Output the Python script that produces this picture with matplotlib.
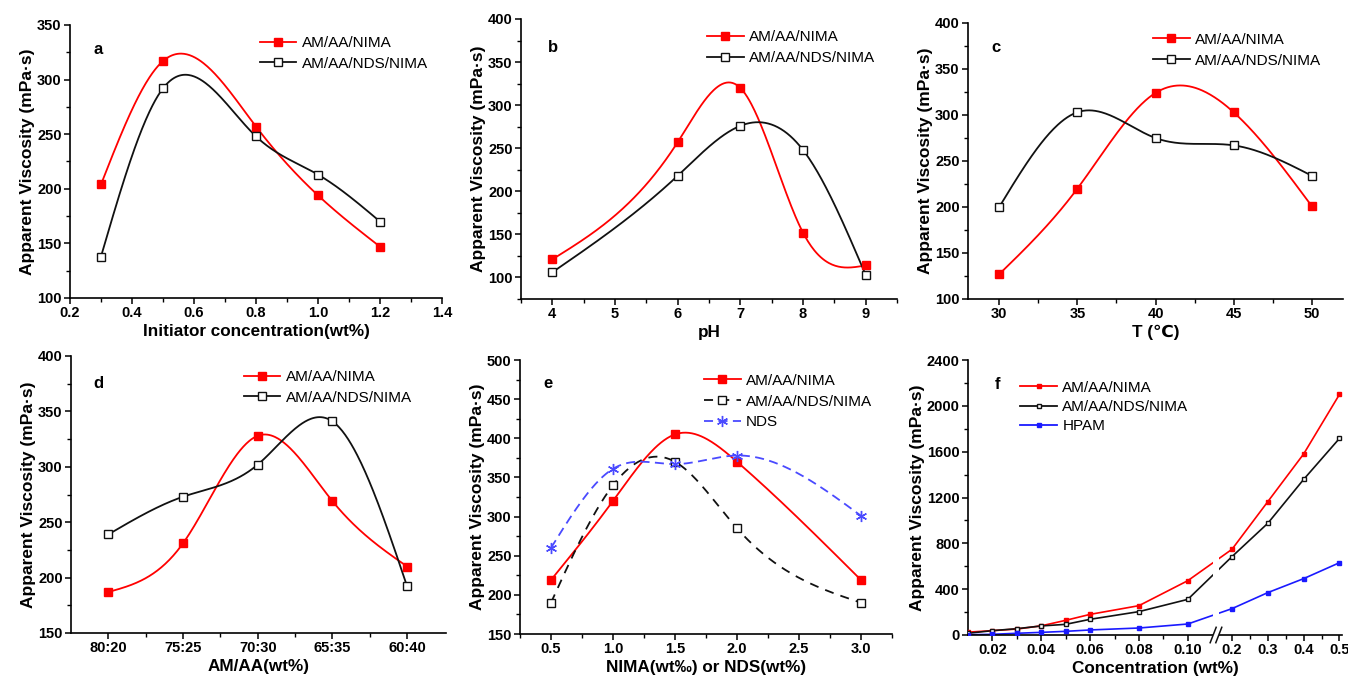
import matplotlib
matplotlib.use("Agg")
import matplotlib.pyplot as plt
import numpy as np
from matplotlib.patches import Rectangle
from matplotlib.ticker import FixedFormatter, FixedLocator, FormatStrFormatter, MultipleLocator

plt.rcParams["font.family"] = ["Liberation Sans", "DejaVu Sans"]

# panel a: initiator concentration
A_X = [0.3, 0.5, 0.8, 1.0, 1.2]
A_NIMA = [204, 317, 257, 194, 147]
A_NDS = [138, 292, 248, 213, 170]

# panel b: pH
B_X = [4, 6, 7, 8, 9]
B_NIMA = [121, 257, 320, 152, 114]
B_NDS = [106, 218, 276, 248, 103]

# panel c: temperature
C_X = [30, 35, 40, 45, 50]
C_NIMA = [127, 220, 324, 303, 201]
C_NDS = [200, 303, 275, 267, 234]

# panel d: AM/AA ratio
D_LABELS = ["80:20", "75:25", "70:30", "65:35", "60:40"]
D_NIMA = [187, 231, 328, 269, 210]
D_NDS = [239, 273, 302, 341, 192]

# panel e: NIMA / NDS content
E_X = [0.5, 1.0, 1.5, 2.0, 3.0]
E_NIMA = [219, 320, 405, 370, 219]
E_NDS_NIMA = [190, 340, 370, 285, 190]
E_NDS = [260, 361, 367, 378, 301]

# panel f: concentration
F_X = [0.01, 0.02, 0.03, 0.04, 0.05, 0.06, 0.08, 0.10, 0.2, 0.3, 0.4, 0.5]
F_NIMA = [25, 38, 52, 80, 128, 180, 256, 474, 748, 1164, 1580, 2100]
F_NDS = [15, 38, 55, 79, 93, 137, 204, 311, 684, 975, 1358, 1716]
F_HPAM = [2, 6, 15, 23, 32, 44, 61, 96, 230, 370, 492, 631]

YLABEL = "Apparent Viscosity (mPa\u00b7s)"
W, H = 1348, 677
RED = "#ff0000"
BLACK = "#111111"


def smooth(x, y, n=300):
    """Natural cubic spline through the points (Origin-style spline connect)."""
    x = np.asarray(x, float)
    y = np.asarray(y, float)
    h = np.diff(x)
    k = len(x)
    m = np.zeros(k)
    if k > 2:
        a = np.zeros((k - 2, k - 2))
        r = np.zeros(k - 2)
        for i in range(1, k - 1):
            a[i - 1, i - 1] = 2 * (h[i - 1] + h[i])
            if i > 1:
                a[i - 1, i - 2] = h[i - 1]
            if i < k - 2:
                a[i - 1, i] = h[i]
            r[i - 1] = 6 * ((y[i + 1] - y[i]) / h[i] - (y[i] - y[i - 1]) / h[i - 1])
        m[1:-1] = np.linalg.solve(a, r)
    xs = np.linspace(x[0], x[-1], n)
    idx = np.clip(np.searchsorted(x, xs) - 1, 0, k - 2)
    x0, x1 = x[idx], x[idx + 1]
    hh = x1 - x0
    t0, t1 = x1 - xs, xs - x0
    ys = (m[idx] * t0 ** 3 + m[idx + 1] * t1 ** 3) / (6 * hh) \
        + (y[idx] / hh - m[idx] * hh / 6) * t0 \
        + (y[idx + 1] / hh - m[idx + 1] * hh / 6) * t1
    return xs, ys


def make_axes(fig, left, top, right, bottom):
    ax = fig.add_axes([left / W, 1 - bottom / H, (right - left) / W, (bottom - top) / H])
    for side in ("top", "right"):
        ax.spines[side].set_visible(False)
    for side in ("left", "bottom"):
        ax.spines[side].set_linewidth(1.2)
    ax.tick_params(which="major", direction="out", length=4.5, width=1.1, labelsize=10.5, pad=1.5)
    ax.tick_params(which="minor", direction="out", length=3, width=1.0)
    ax.set_ylabel(YLABEL, fontsize=12.5, fontweight="bold", labelpad=1.5)
    return ax


def xlabel(ax, s):
    ax.set_xlabel(s, fontsize=12.3, fontweight="bold", labelpad=2.5)


def bold_ticks(ax):
    for lab in ax.get_xticklabels() + ax.get_yticklabels():
        lab.set_fontweight("bold")


def series(ax, x, y, color, filled, ms=5.5, ls="-", marker="s", spline=True, lw=1.3):
    if spline:
        xs, ys = smooth(x, y)
    else:
        xs, ys = x, y
    ax.plot(xs, ys, color=color, lw=lw, ls=ls, zorder=2)
    face = color if filled else "white"
    ax.plot(x, y, ls="none", marker=marker, ms=ms, mfc=face, mec=color, mew=1.0, zorder=3)


def legend(ax, handles, x, y, spacing=0.45, hl=2.4):
    ax.legend(handles=handles, loc="upper left", bbox_to_anchor=(x, y), frameon=False,
              borderpad=0, borderaxespad=0, handlelength=hl, handletextpad=0.35,
              labelspacing=spacing, numpoints=1, fontsize=11)


def handle(color, filled, ls="-", ms=5.5, marker="s", label=""):
    return plt.Line2D([], [], color=color, lw=1.3, ls=ls, marker=marker, ms=ms,
                      mfc=color if filled else "white", mec=color, mew=1.0, label=label)


def letter(ax, s, x, y):
    ax.text(x, y, s, transform=ax.transAxes, fontsize=12, fontweight="bold", ha="center", va="center")


fig = plt.figure(figsize=(W / 100, H / 100), dpi=100)

# ---- a
ax = make_axes(fig, 70, 25, 442, 298)
series(ax, A_X, A_NIMA, RED, True)
series(ax, A_X, A_NDS, BLACK, False)
ax.set_xlim(0.2, 1.4)
ax.set_ylim(100, 350)
ax.xaxis.set_major_locator(MultipleLocator(0.2))
ax.xaxis.set_minor_locator(MultipleLocator(0.1))
ax.yaxis.set_major_locator(MultipleLocator(50))
ax.yaxis.set_minor_locator(MultipleLocator(25))
xlabel(ax, "Initiator concentration(wt%)")
legend(ax, [handle(RED, True, label="AM/AA/NIMA"), handle(BLACK, False, label="AM/AA/NDS/NIMA")], 0.51, 0.96)
letter(ax, "a", 0.075, 0.91)
bold_ticks(ax)

# ---- b
ax = make_axes(fig, 521, 19, 897, 299)
series(ax, B_X, B_NIMA, RED, True)
series(ax, B_X, B_NDS, BLACK, False)
ax.set_xlim(3.5, 9.5)
ax.set_ylim(75, 400)
ax.xaxis.set_major_locator(MultipleLocator(1))
ax.xaxis.set_minor_locator(MultipleLocator(0.5))
ax.yaxis.set_major_locator(MultipleLocator(50))
ax.yaxis.set_minor_locator(MultipleLocator(25))
xlabel(ax, "pH")
legend(ax, [handle(RED, True, label="AM/AA/NIMA"), handle(BLACK, False, label="AM/AA/NDS/NIMA")], 0.495, 0.96)
letter(ax, "b", 0.085, 0.90)
bold_ticks(ax)

# ---- c
ax = make_axes(fig, 968, 23, 1343, 299)
series(ax, C_X, C_NIMA, RED, True)
series(ax, C_X, C_NDS, BLACK, False)
ax.set_xlim(28, 52)
ax.set_ylim(100, 400)
ax.xaxis.set_major_locator(MultipleLocator(5))
ax.xaxis.set_minor_locator(MultipleLocator(2.5))
ax.yaxis.set_major_locator(MultipleLocator(50))
ax.yaxis.set_minor_locator(MultipleLocator(25))
xlabel(ax, "T (\u2103)")
legend(ax, [handle(RED, True, label="AM/AA/NIMA"), handle(BLACK, False, label="AM/AA/NDS/NIMA")], 0.493, 0.965)
letter(ax, "c", 0.075, 0.91)
bold_ticks(ax)

# ---- d
ax = make_axes(fig, 71, 356, 446, 633)
d_pos = np.arange(len(D_LABELS))
series(ax, d_pos, D_NIMA, RED, True)
series(ax, d_pos, D_NDS, BLACK, False)
ax.set_xlim(-0.5, 4.52)
ax.set_ylim(150, 400)
ax.set_xticks(d_pos)
ax.set_xticklabels(D_LABELS)
ax.xaxis.set_minor_locator(FixedLocator(d_pos[:-1] + 0.5))
ax.yaxis.set_major_locator(MultipleLocator(50))
ax.yaxis.set_minor_locator(MultipleLocator(25))
xlabel(ax, "AM/AA(wt%)")
legend(ax, [handle(RED, True, label="AM/AA/NIMA"), handle(BLACK, False, label="AM/AA/NDS/NIMA")], 0.46, 0.95)
letter(ax, "d", 0.072, 0.90)
bold_ticks(ax)

# ---- e
BLUE_E = "#4a4aff"
ax = make_axes(fig, 520, 360, 892, 634)
series(ax, E_X, E_NIMA, RED, True)
series(ax, E_X, E_NDS_NIMA, BLACK, False, ls=(0, (5, 4)))
series(ax, E_X, E_NDS, BLUE_E, False, ls=(0, (5, 3)), marker=(6, 2, 0), ms=8)
ax.set_xlim(0.25, 3.25)
ax.set_ylim(150, 500)
ax.xaxis.set_major_locator(MultipleLocator(0.5))
ax.xaxis.set_minor_locator(MultipleLocator(0.25))
ax.xaxis.set_major_formatter(FormatStrFormatter("%.1f"))
ax.yaxis.set_major_locator(MultipleLocator(50))
ax.yaxis.set_minor_locator(MultipleLocator(25))
xlabel(ax, "NIMA(wt\u2030) or NDS(wt%)")
legend(ax, [handle(RED, True, label="AM/AA/NIMA"),
            handle(BLACK, False, ls=(0, (5, 4)), label="AM/AA/NDS/NIMA"),
            handle(BLUE_E, False, ls=(0, (5, 3)), marker=(6, 2, 0), ms=8, label="NDS")],
       0.495, 0.95)
letter(ax, "e", 0.075, 0.915)
bold_ticks(ax)

# ---- f (broken concentration axis)
KNOT_X = [0.0, 0.10, 0.20, 1.0]
KNOT_U = [-1.0, 9.0, 10.81, 22.55]


def fwd(x):
    return np.interp(x, KNOT_X, KNOT_U)


def inv(u):
    return np.interp(u, KNOT_U, KNOT_X)


BLUE_F = "#1a1aff"
ax = make_axes(fig, 968, 360, 1342, 635)
ax.set_xscale("function", functions=(fwd, inv))
series(ax, F_X, F_NIMA, RED, True, ms=3.5, spline=False, lw=1.2)
series(ax, F_X, F_NDS, BLACK, False, ms=3.5, spline=False, lw=1.2)
series(ax, F_X, F_HPAM, BLUE_F, True, ms=3.0, spline=False, lw=1.2)
ax.set_xlim(0.01, 0.507)
ax.set_ylim(0, 2400)
f_ticks = [0.02, 0.04, 0.06, 0.08, 0.10, 0.2, 0.3, 0.4, 0.5]
ax.xaxis.set_major_locator(FixedLocator(f_ticks))
ax.xaxis.set_major_formatter(FixedFormatter(["0.02", "0.04", "0.06", "0.08", "0.10", "0.2", "0.3", "0.4", "0.5"]))
ax.xaxis.set_minor_locator(FixedLocator([0.03, 0.05, 0.07, 0.09, 0.25, 0.35, 0.45]))
ax.yaxis.set_major_locator(MultipleLocator(400))
ax.yaxis.set_minor_locator(MultipleLocator(200))
xlabel(ax, "Concentration (wt%)")
fig.canvas.draw()
gx0 = ax.transAxes.inverted().transform(ax.transData.transform((inv(10.04), 0)))[0]
gx1 = ax.transAxes.inverted().transform(ax.transData.transform((inv(10.27), 0)))[0]
ax.add_patch(Rectangle((gx0, -0.02), gx1 - gx0, 1.02, transform=ax.transAxes, facecolor="white",
                       edgecolor="none", zorder=4, clip_on=False))
for cx in (gx0, gx1):
    ax.plot([cx - 0.008, cx + 0.008], [-0.028, 0.028], transform=ax.transAxes, color=BLACK,
            lw=1.1, clip_on=False, zorder=5)
legend(ax, [handle(RED, True, ms=3.5, label="AM/AA/NIMA"),
            handle(BLACK, False, ms=3.5, label="AM/AA/NDS/NIMA"),
            handle(BLUE_F, True, ms=3.0, label="HPAM")], 0.14, 0.925, spacing=0.35)
letter(ax, "f", 0.078, 0.91)
bold_ticks(ax)

fig.savefig("out.png", dpi=100)
